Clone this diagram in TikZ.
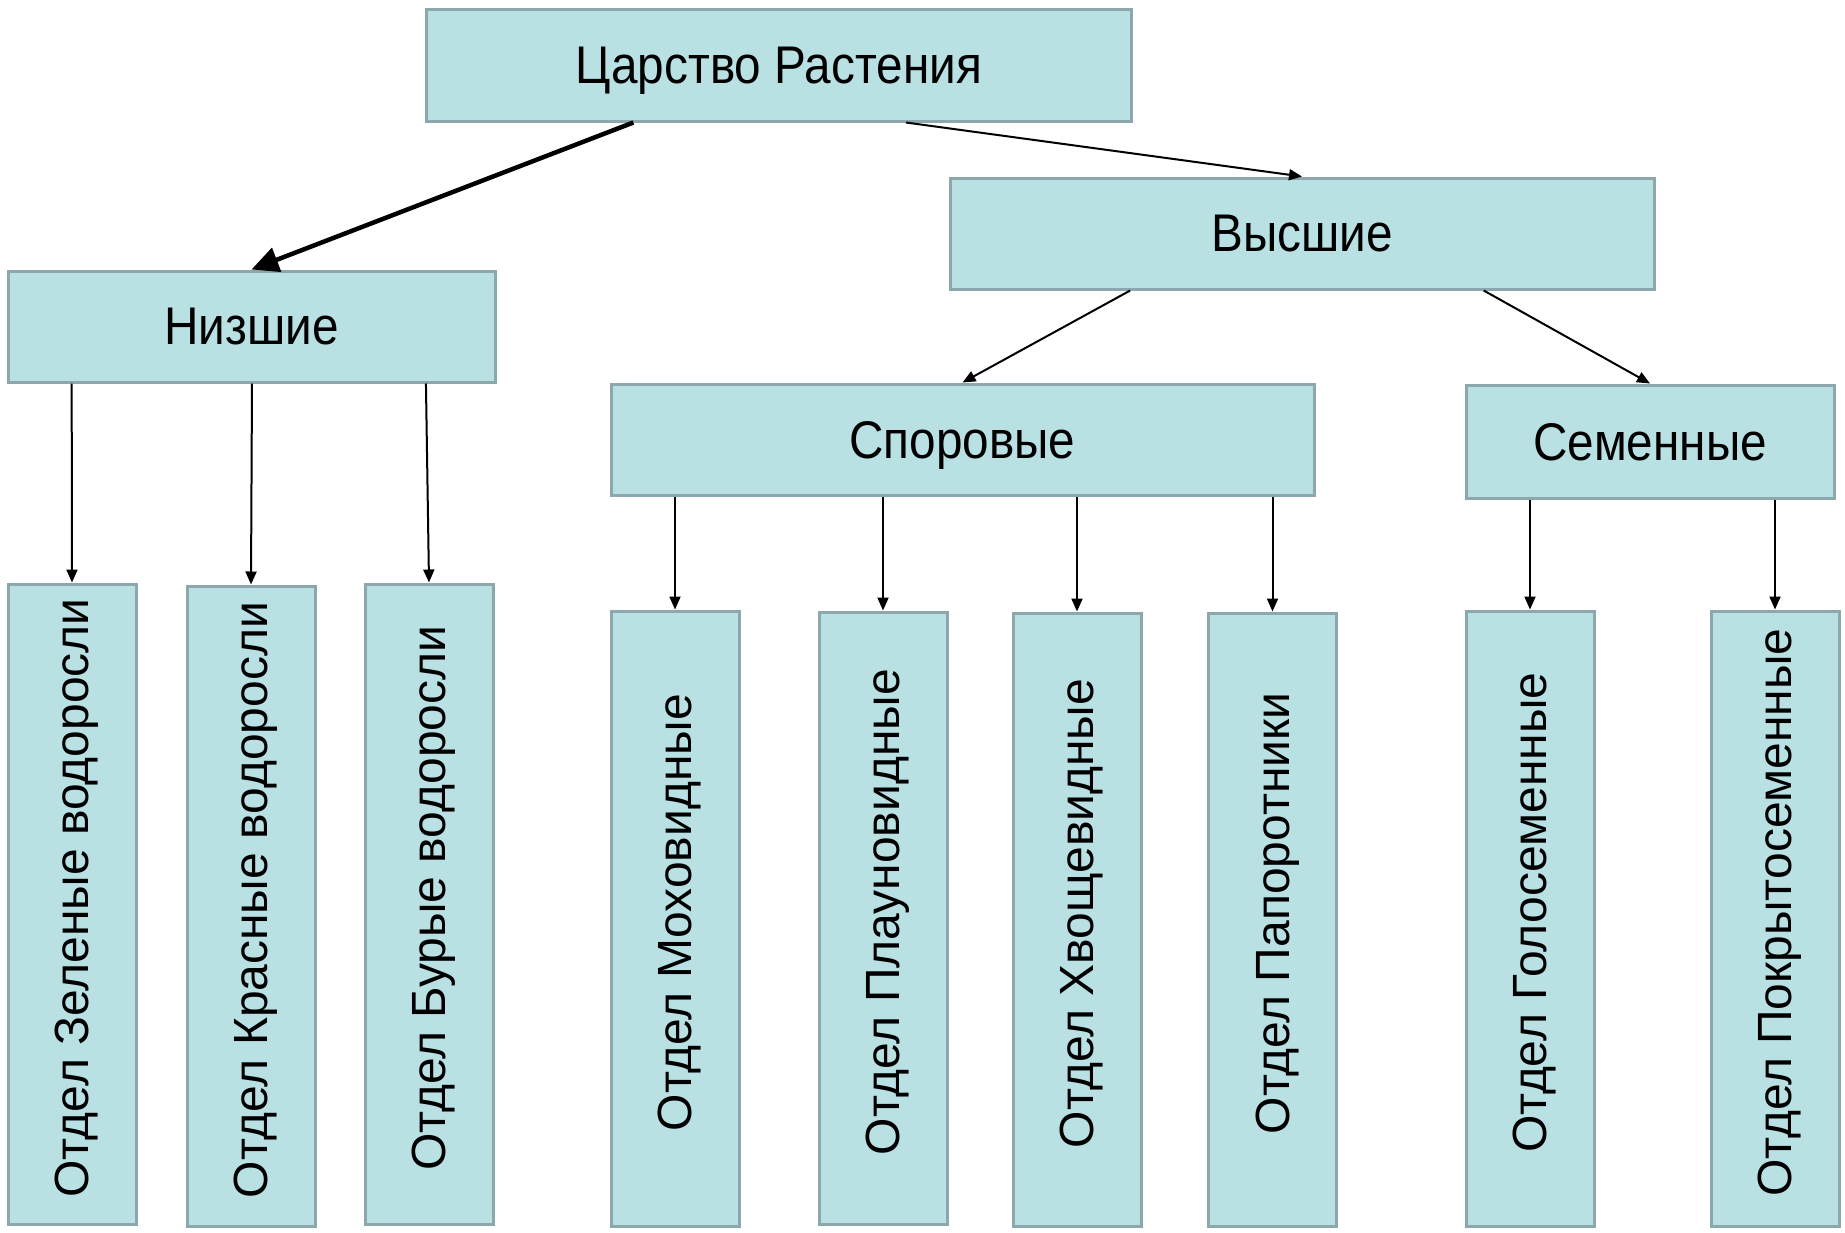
\documentclass[tikz,border=0pt]{standalone}
\usepackage{fontspec}
\setmainfont{Liberation Sans}
\usetikzlibrary{calc,arrows.meta}
\definecolor{boxfill}{HTML}{B9E0E3}
\definecolor{boxline}{HTML}{8CA8AC}
\newcommand{\narrowtxt}[1]{\raisebox{0pt}[\height][0pt]{\scalebox{0.9}[1]{#1}}}
\newcommand{\uptxt}[1]{\rotatebox{90}{\raisebox{0pt}[\height][0pt]{\hspace*{12pt}#1}}}
\begin{document}
\begin{tikzpicture}[x=1pt,y=-1pt,
  box/.style={draw=boxline, fill=boxfill, line width=3pt, inner sep=0pt, rectangle},
  headbox/.style={box, font=\fontsize{53}{60}\selectfont},
  vbox/.style={box, minimum width=128pt, font=\fontsize{48}{56}\selectfont},
  conn/.style={line width=2pt, -{Triangle[length=13pt,width=11pt]}},
  thickconn/.style={line width=4.5pt, -{Triangle[length=27pt,width=25pt]}},
]
\useasboundingbox[fill=white] (0,0) rectangle (1845,1232);

\node[headbox, minimum width=705pt, minimum height=112pt] (top) at (778.5,65) {\narrowtxt{Царство Растения}};
\node[headbox, minimum width=487pt, minimum height=111pt] (niz) at (251.5,326.5) {\narrowtxt{Низшие}};
\node[headbox, minimum width=704pt, minimum height=111pt] (vys) at (1302,233.5) {\narrowtxt{Высшие}};
\node[headbox, minimum width=703pt, minimum height=111pt] (spor) at (962.5,439.5) {\narrowtxt{Споровые}};
\node[headbox, minimum width=368pt, minimum height=113pt] (sem) at (1650,441.5) {\narrowtxt{Семенные}};

\node[vbox, minimum height=640pt] (b1) at (72,904) {\uptxt{Отдел Зеленые водоросли}};
\node[vbox, minimum height=640pt] (b2) at (251,906) {\uptxt{Отдел Красные водоросли}};
\node[vbox, minimum height=640pt] (b3) at (429,904) {\uptxt{Отдел Бурые водоросли}};
\node[vbox, minimum height=615pt] (b4) at (675,918.5) {\uptxt{Отдел Моховидные}};
\node[vbox, minimum height=612pt] (b5) at (883,918) {\uptxt{Отдел Плауновидные}};
\node[vbox, minimum height=613pt] (b6) at (1077,919.5) {\uptxt{Отдел Хвощевидные}};
\node[vbox, minimum height=613pt] (b7) at (1272.5,919.5) {\uptxt{Отдел Папоротники}};
\node[vbox, minimum height=615pt] (b8) at (1530,918.5) {\uptxt{Отдел Голосеменные}};
\node[vbox, minimum height=615pt] (b9) at (1775,918.5) {\uptxt{Отдел Покрытосеменные}};

\draw[thickconn] ($(top.south west)!0.295!(top.south east)$) -- (niz.north);
\draw[conn] ($(top.south west)!0.68!(top.south east)$) -- (vys.north);
\draw[conn] ($(vys.south west)!0.257!(vys.south east)$) -- (spor.north);
\draw[conn] ($(vys.south west)!0.757!(vys.south east)$) -- (sem.north);

\draw[conn] ($(niz.south west)!0.133!(niz.south east)$) -- (b1.north);
\draw[conn] ($(niz.south west)!0.501!(niz.south east)$) -- (b2.north);
\draw[conn] ($(niz.south west)!0.856!(niz.south east)$) -- (b3.north);

\draw[conn] (b4.north |- spor.south) -- (b4.north);
\draw[conn] (b5.north |- spor.south) -- (b5.north);
\draw[conn] (b6.north |- spor.south) -- (b6.north);
\draw[conn] (b7.north |- spor.south) -- (b7.north);
\draw[conn] (b8.north |- sem.south) -- (b8.north);
\draw[conn] (b9.north |- sem.south) -- (b9.north);
\end{tikzpicture}
\end{document}
